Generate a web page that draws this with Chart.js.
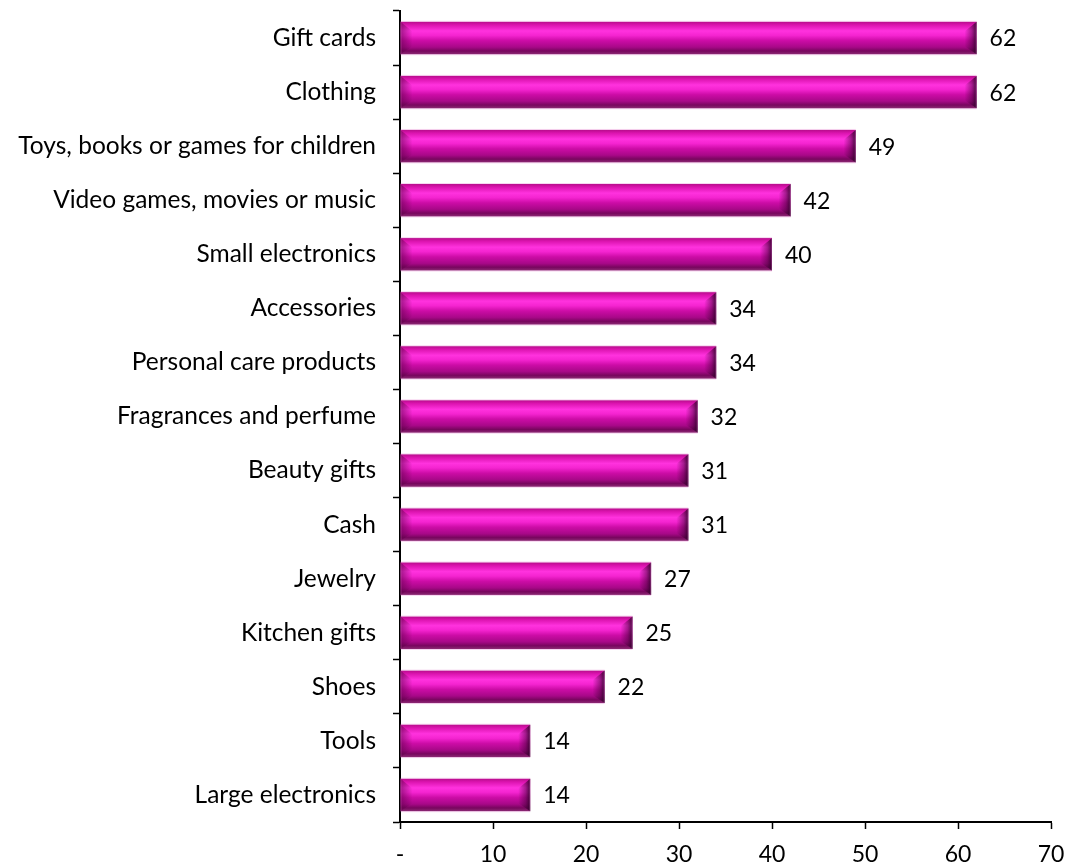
<!DOCTYPE html>
<html>
<head>
<meta charset="utf-8">
<script src="https://cdn.jsdelivr.net/npm/chart.js@4.4.1/dist/chart.umd.min.js"></script>
<style>
  html, body { margin: 0; padding: 0; background: #fff; }
  #wrap { width: 1066px; height: 867px; }
</style>
</head>
<body>
<div id="wrap"><canvas id="grafico" width="1066" height="867"></canvas></div>
<script>
// categorias e valores (%)
const categorias = [
  "Gift cards",
  "Clothing",
  "Toys, books or games for children",
  "Video games, movies or music",
  "Small electronics",
  "Accessories",
  "Personal care products",
  "Fragrances and perfume",
  "Beauty gifts",
  "Cash",
  "Jewelry",
  "Kitchen gifts",
  "Shoes",
  "Tools",
  "Large electronics"
];
const valores = [62, 62, 49, 42, 40, 34, 34, 32, 31, 31, 27, 25, 22, 14, 14];
const ticksX = [0, 10, 20, 30, 40, 50, 60, 70];

const FONTE = "Lato, 'Open Sans', sans-serif";

// === Barras com efeito de cilindro/bisel ===
const barrasBisel = {
  id: "barrasBisel",
  afterDatasetsDraw(chart) {
    const ctx = chart.ctx;
    const meta = chart.getDatasetMeta(0);
    meta.data.forEach((bar, i) => {
      const { x, y, base, height } = bar.getProps(["x", "y", "base", "height"], true);
      const top = y - height / 2;
      const left = base;
      const w = x - base;

      // gradiente vertical principal
      const g = ctx.createLinearGradient(0, top, 0, top + height);
      g.addColorStop(0.0, "#b80c8c");
      g.addColorStop(0.1, "#dc14b0");
      g.addColorStop(0.28, "#ff32de");
      g.addColorStop(0.42, "#f424d0");
      g.addColorStop(0.58, "#cc0ca6");
      g.addColorStop(0.78, "#a80888");
      g.addColorStop(0.9, "#78065e");
      g.addColorStop(1.0, "#8c2a74");
      ctx.save();
      ctx.fillStyle = g;
      ctx.fillRect(left, top, w, height);

      // bisel esquerdo
      const bev = Math.min(12, w / 3);
      const gl = ctx.createLinearGradient(left, 0, left + bev, 0);
      gl.addColorStop(0, "rgba(90,0,70,0.55)");
      gl.addColorStop(1, "rgba(90,0,70,0)");
      ctx.fillStyle = gl;
      ctx.beginPath();
      ctx.moveTo(left, top);
      ctx.lineTo(left + bev, top + height * 0.3);
      ctx.lineTo(left + bev, top + height * 0.75);
      ctx.lineTo(left, top + height);
      ctx.closePath();
      ctx.fill();

      // bisel direito (mais escuro)
      const gr = ctx.createLinearGradient(x - bev, 0, x, 0);
      gr.addColorStop(0, "rgba(60,0,50,0)");
      gr.addColorStop(0.6, "rgba(60,0,50,0.45)");
      gr.addColorStop(1, "rgba(40,0,35,0.85)");
      ctx.fillStyle = gr;
      ctx.beginPath();
      ctx.moveTo(x, top);
      ctx.lineTo(x - bev, top + height * 0.3);
      ctx.lineTo(x - bev, top + height * 0.75);
      ctx.lineTo(x, top + height);
      ctx.closePath();
      ctx.fill();

      // contorno rosado suave
      ctx.strokeStyle = "rgba(230,120,210,0.3)";
      ctx.lineWidth = 1;
      ctx.strokeRect(left + 0.5, top - 0.5, w - 1, height + 1);

      // rótulo do valor
      ctx.fillStyle = "#000";
      ctx.font = "23px " + FONTE;
      ctx.textAlign = "left";
      ctx.textBaseline = "middle";
      ctx.fillText(String(valores[i]), x + 13, y + 1);
      ctx.restore();
    });
  }
};

const ctxG = document.getElementById("grafico").getContext("2d");

new Chart(ctxG, {
  type: "bar",
  data: {
    labels: categorias,
    datasets: [{
      data: valores,
      backgroundColor: "rgba(0,0,0,0)",
      borderWidth: 0,
      categoryPercentage: 1.0,
      barPercentage: 0.6
    }]
  },
  options: {
    indexAxis: "y",
    responsive: false,
    animation: false,
    layout: { padding: { top: 11, right: 15, left: 0, bottom: 0 } },
    plugins: {
      legend: { display: false },
      tooltip: { enabled: false }
    },
    scales: {
      x: {
        min: 0,
        max: 70,
        afterBuildTicks: (axis) => { axis.ticks = ticksX.map(v => ({ value: v })); },
        afterFit: (axis) => {
          axis.height = 45;
          axis.paddingLeft = 0;
          axis.paddingRight = 0;
        },
        grid: { drawOnChartArea: false, tickLength: 7, color: "#000", tickWidth: 1.5 },
        border: { color: "#000", width: 2 },
        ticks: {
          color: "#000",
          padding: 12,
          font: { size: 23, family: FONTE },
          callback: (v) => (v === 0 ? "-" : v)
        }
      },
      y: {
        afterFit: (axis) => {
          axis.width = 400;
          axis.paddingTop = 0;
          axis.paddingBottom = 0;
        },
        grid: { drawOnChartArea: false, offset: true, tickLength: 7, color: "#000", tickWidth: 1.5 },
        border: { color: "#000", width: 2 },
        ticks: {
          color: "#000",
          padding: 17,
          font: { size: 24.5, family: FONTE }
        }
      }
    }
  },
  plugins: [barrasBisel]
});
</script>
</body>
</html>
